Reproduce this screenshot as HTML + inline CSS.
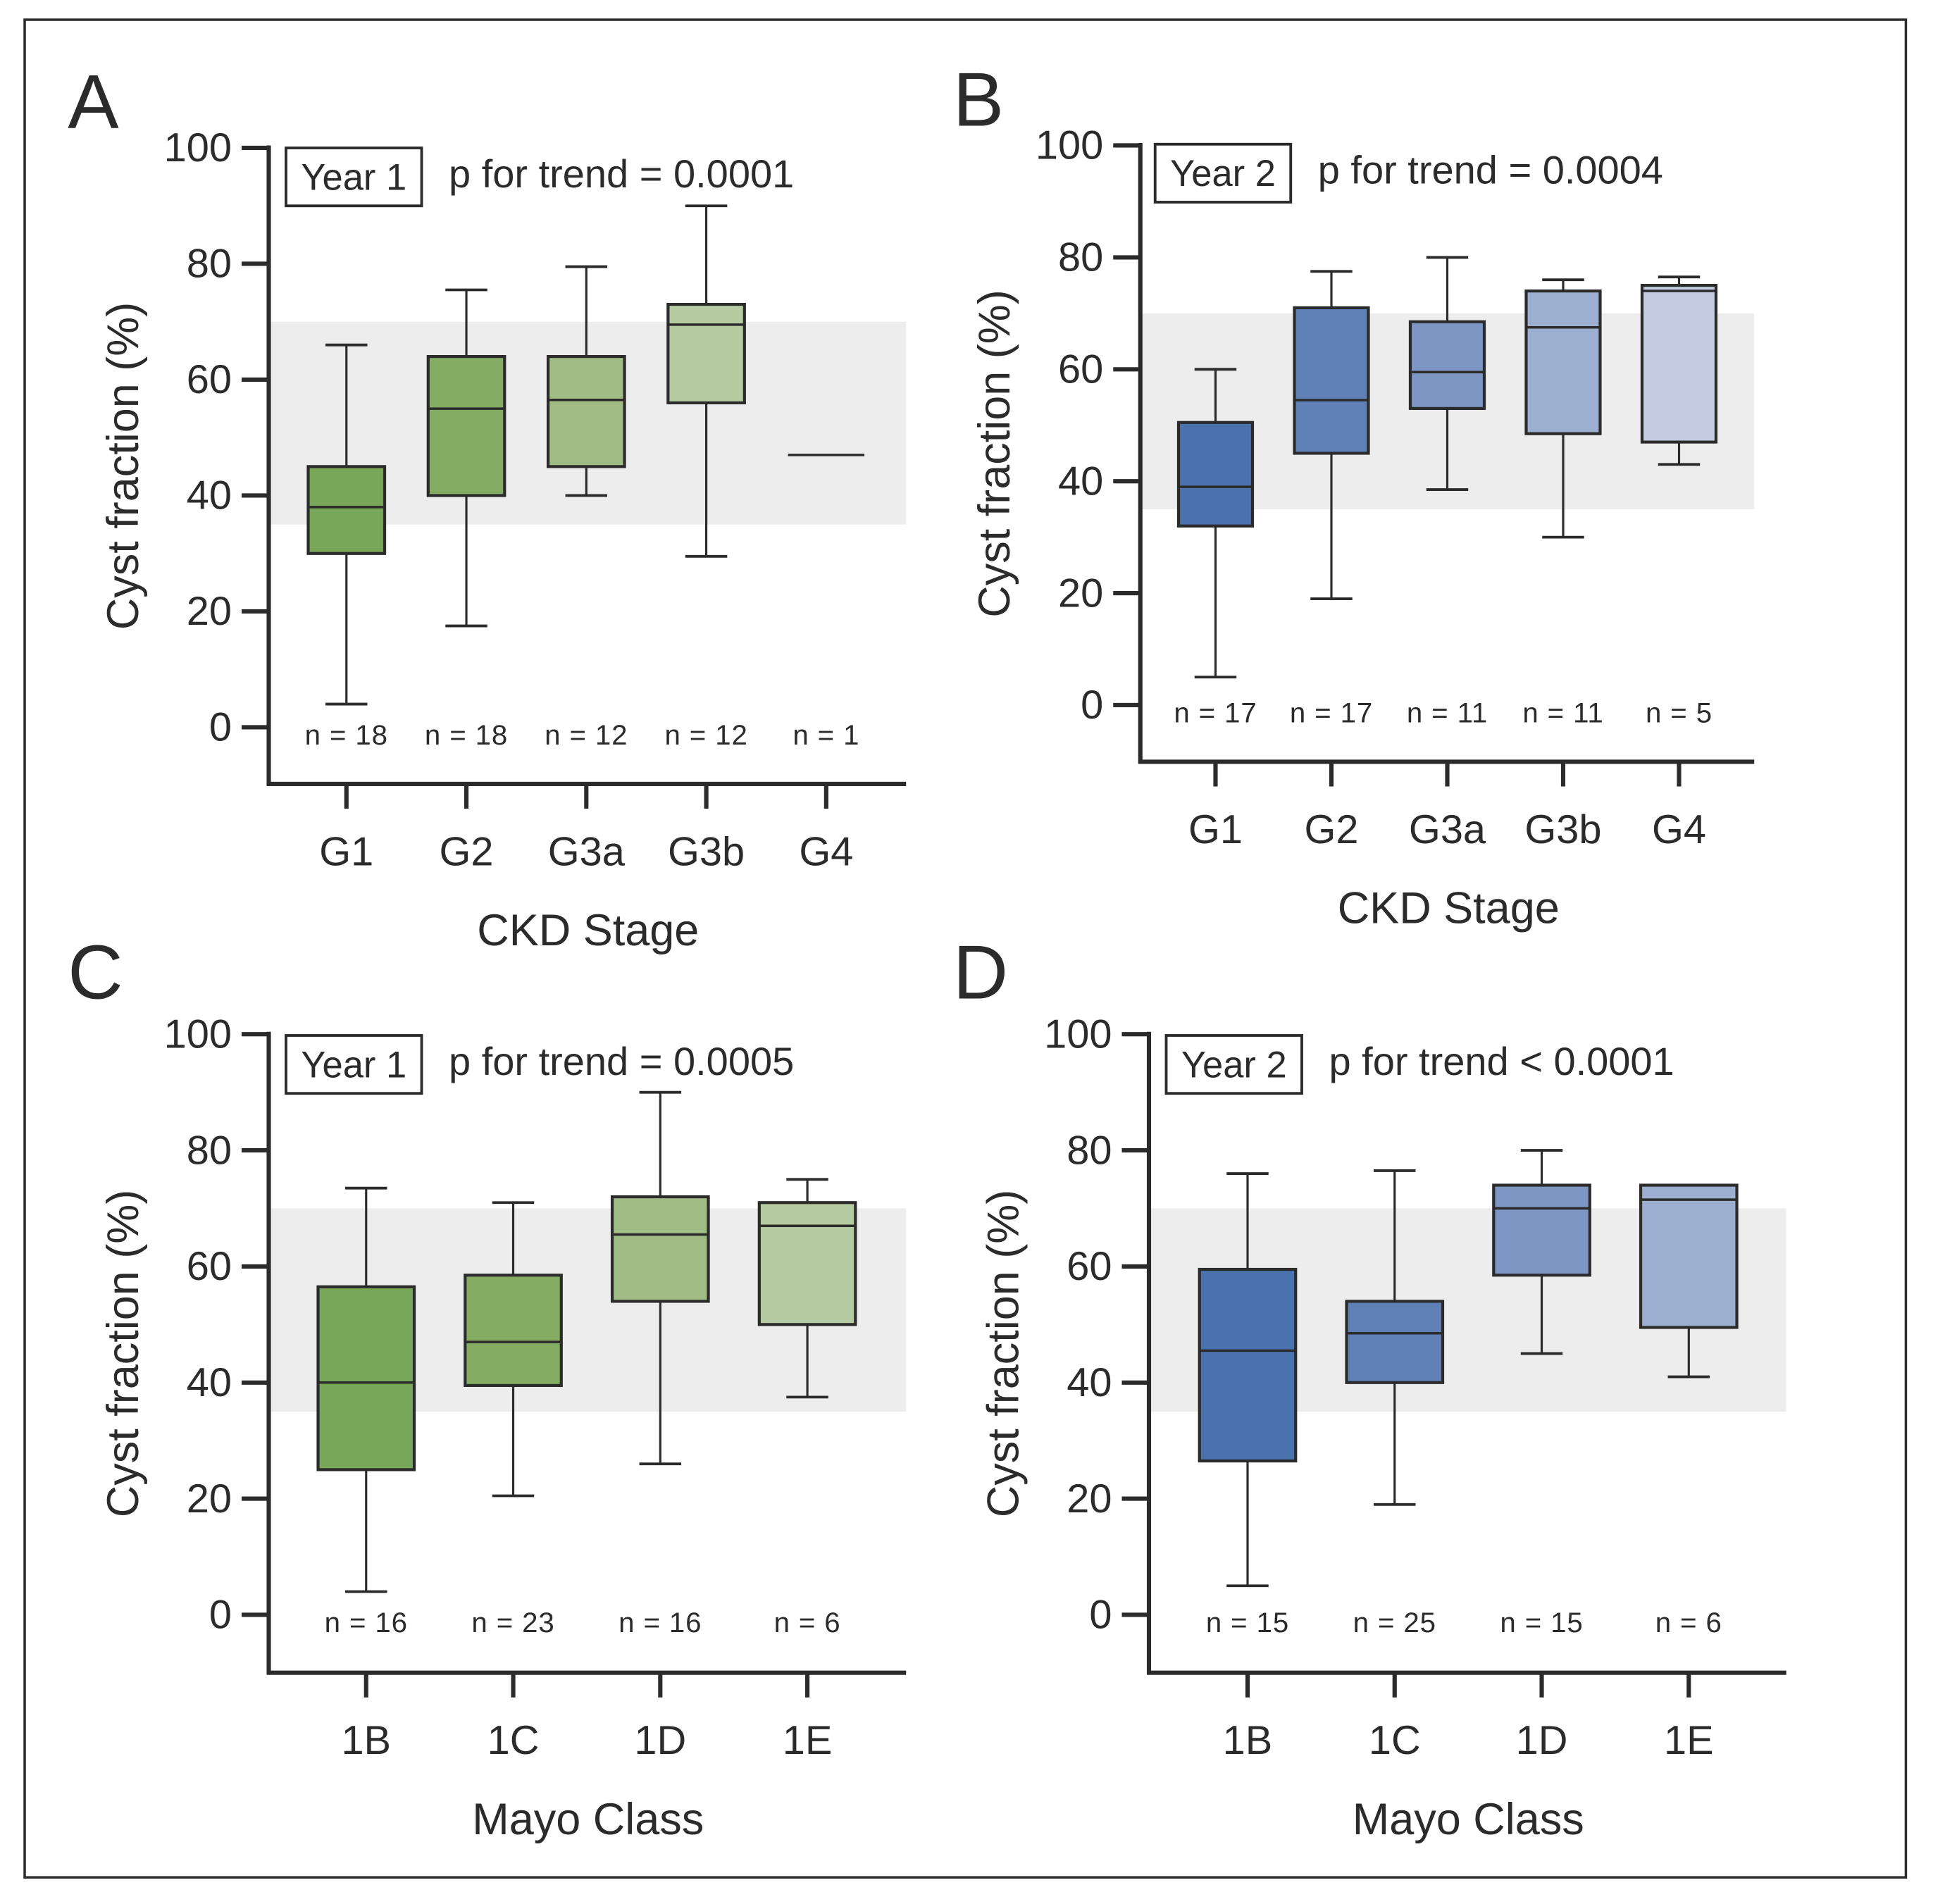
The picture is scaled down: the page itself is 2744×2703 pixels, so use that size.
<!DOCTYPE html>
<html><head><meta charset="utf-8"><style>
html,body{margin:0;padding:0;background:#fff}
svg{display:block;font-family:"Liberation Sans",sans-serif}
</style></head><body>
<svg id="fig" width="2744" height="2703" viewBox="0 0 1568 1544.6" xmlns="http://www.w3.org/2000/svg">
<rect x="20" y="16" width="1526" height="1507" fill="none" stroke="#2b2b2b" stroke-width="2"/>
</svg>
<script>
// Panel A data
const catsA = ["G1","G2","G3a","G3b","G4"];
const nA = ["n = 18","n = 18","n = 12","n = 12","n = 1"];
const minA = [4,17.5,40,29.5,47];
const q1A = [30,40,45,56,47];
const medA = [38,55,56.5,69.5,47];
const q3A = [45,64,64,73,47];
const maxA = [66,75.5,79.5,90,47];
// Panel B data
const catsB = ["G1","G2","G3a","G3b","G4"];
const nB = ["n = 17","n = 17","n = 11","n = 11","n = 5"];
const minB = [5,19,38.5,30,43];
const q1B = [32,45,53,48.5,47];
const medB = [39,54.5,59.5,67.5,74];
const q3B = [50.5,71,68.5,74,75];
const maxB = [60,77.5,80,76,76.5];
// Panel C data
const catsC = ["1B","1C","1D","1E"];
const nC = ["n = 16","n = 23","n = 16","n = 6"];
const minC = [4,20.5,26,37.5];
const q1C = [25,39.5,54,50];
const medC = [40,47,65.5,67];
const q3C = [56.5,58.5,72,71];
const maxC = [73.5,71,90,75];
// Panel D data
const catsD = ["1B","1C","1D","1E"];
const nD = ["n = 15","n = 25","n = 15","n = 6"];
const minD = [5,19,45,41];
const q1D = [26.5,40,58.5,49.5];
const medD = [45.5,48.5,70,71.5];
const q3D = [59.5,54,74,74];
const maxD = [76,76.5,80,74];
const yTicks = [0,20,40,60,80,100];
const bandRange = [35,70];

const svg = document.getElementById('fig');
const NS = "http://www.w3.org/2000/svg";
function mk(tag, attrs, parent){const e=document.createElementNS(NS,tag);for(const k in attrs)e.setAttribute(k,attrs[k]);(parent||svg).appendChild(e);return e;}
const S="#2b2b2b";

function panel(cfg){
  const g = mk('g',{});
  
  
  const y = v => cfg.y0 + (cfg.y100 - cfg.y0) * v / 100;
  const band = mk('rect',{x:cfg.ax,y:y(bandRange[1]),width:cfg.xEnd-cfg.ax,height:y(bandRange[0])-y(bandRange[1]),fill:"#ededed"},g);
  
  
  // boxes
  cfg.cats.forEach((c,i)=>{
    const cx = cfg.x0 + i*cfg.dx, w = cfg.bw, cw = 34;
    const bg = mk('g',{},g);
    
    
    mk('line',{x1:cx,x2:cx,y1:y(cfg.max[i]),y2:y(cfg.q3[i]),stroke:S,"stroke-width":1.8},bg);
    mk('line',{x1:cx,x2:cx,y1:y(cfg.q1[i]),y2:y(cfg.min[i]),stroke:S,"stroke-width":1.8},bg);
    if(cfg.max[i]!==cfg.min[i]){
      mk('line',{x1:cx-cw/2,x2:cx+cw/2,y1:y(cfg.max[i]),y2:y(cfg.max[i]),stroke:S,"stroke-width":2.2},bg);
      mk('line',{x1:cx-cw/2,x2:cx+cw/2,y1:y(cfg.min[i]),y2:y(cfg.min[i]),stroke:S,"stroke-width":2.2},bg);
    }
    if(cfg.q3[i]!==cfg.q1[i]) mk('rect',{x:cx-w/2,y:y(cfg.q3[i]),width:w,height:y(cfg.q1[i])-y(cfg.q3[i]),fill:cfg.colors[i],stroke:S,"stroke-width":2.4},bg);
    mk('line',{x1:cx-w/2,x2:cx+w/2,y1:y(cfg.med[i]),y2:y(cfg.med[i]),stroke:S,"stroke-width":2},bg);
    const nt = mk('text',{x:cx,y:cfg.nY,"text-anchor":"middle","font-size":23,fill:S,"letter-spacing":"0.5"},g);
    nt.textContent = cfg.n[i];
    
    
    mk('line',{x1:cx,x2:cx,y1:cfg.xAxisY,y2:cfg.xAxisY+20,stroke:S,"stroke-width":3.5},g);
    const xl = mk('text',{x:cx,y:cfg.xAxisY+66,"text-anchor":"middle","font-size":33,fill:S},g);
    xl.textContent = c;
    
    
  });
  // axes
  const ya = mk('line',{x1:cfg.ax,x2:cfg.ax,y1:y(100)-2,y2:cfg.xAxisY+1.5,stroke:S,"stroke-width":3.5},g);
   
  const xa = mk('line',{x1:cfg.ax-1.5,x2:cfg.xEnd,y1:cfg.xAxisY,y2:cfg.xAxisY,stroke:S,"stroke-width":3.5},g);
   
  yTicks.forEach(t=>{
    mk('line',{x1:cfg.ax-22,x2:cfg.ax,y1:y(t),y2:y(t),stroke:S,"stroke-width":3.5},g);
    const tl = mk('text',{x:cfg.ax-30,y:y(t)+11,"text-anchor":"end","font-size":33,fill:S},g);
    tl.textContent = t;
    
    
  });
  const yt = mk('text',{x:0,y:0,transform:`translate(${cfg.ax-106},${(y(100)+cfg.xAxisY)/2}) rotate(-90)`,"text-anchor":"middle","font-size":36,fill:S},g);
  yt.textContent = "Cyst fraction (%)";
   
  const xt = mk('text',{x:cfg.xTitleX,y:cfg.xAxisY+131,"text-anchor":"middle","font-size":36,fill:S},g);
  xt.textContent = cfg.xTitle;
   
  const lt = mk('text',{x:cfg.lx,y:cfg.ly,"font-size":62,fill:S},g);
  lt.textContent = cfg.letter;
   
  const yb = mk('rect',{x:cfg.yrx,y:cfg.yry,width:110,height:47,fill:"#fff",stroke:S,"stroke-width":2.2},g);
   
  const ytx = mk('text',{x:cfg.yrx+55,y:cfg.yry+34,"text-anchor":"middle","font-size":30,fill:S},g);
  ytx.textContent = cfg.year;
   
  const pt = mk('text',{x:cfg.yrx+132,y:cfg.yry+32,"font-size":32,fill:S},g);
  pt.textContent = cfg.p;
   
}
const green = ["#79a759","#84ad63","#a0bb84","#b6cba1","#b6cba1"];
const blue = ["#4a72ad","#5f80b6","#7d96c3","#9cafd0","#c4cde2"];
panel({letter:"A",cats:catsA,n:nA,min:minA,q1:q1A,med:medA,q3:q3A,max:maxA,colors:green,
  ax:218,xEnd:735,y0:590,y100:120,xAxisY:636,x0:281,dx:97.3,bw:62,nY:604,xTitle:"CKD Stage",xTitleX:477,
  lx:55,ly:104,yrx:232,yry:120,year:"Year 1",p:"p for trend = 0.0001"});
panel({letter:"B",cats:catsB,n:nB,min:minB,q1:q1B,med:medB,q3:q3B,max:maxB,colors:blue,
  ax:925,xEnd:1423,y0:572,y100:118,xAxisY:618,x0:986,dx:94,bw:60,nY:586,xTitle:"CKD Stage",xTitleX:1175,
  lx:773,ly:102,yrx:937,yry:117,year:"Year 2",p:"p for trend = 0.0004"});
panel({letter:"C",cats:catsC,n:nC,min:minC,q1:q1C,med:medC,q3:q3C,max:maxC,colors:green,
  ax:218,xEnd:735,y0:1310,y100:839,xAxisY:1357,x0:297,dx:119.3,bw:78,nY:1324,xTitle:"Mayo Class",xTitleX:477,
  lx:55,ly:810,yrx:232,yry:840,year:"Year 1",p:"p for trend = 0.0005"});
panel({letter:"D",cats:catsD,n:nD,min:minD,q1:q1D,med:medD,q3:q3D,max:maxD,colors:blue,
  ax:932,xEnd:1449,y0:1310,y100:839,xAxisY:1357,x0:1012,dx:119.3,bw:78,nY:1324,xTitle:"Mayo Class",xTitleX:1191,
  lx:773,ly:810,yrx:946,yry:840,year:"Year 2",p:"p for trend < 0.0001"});
</script>
</body></html>
